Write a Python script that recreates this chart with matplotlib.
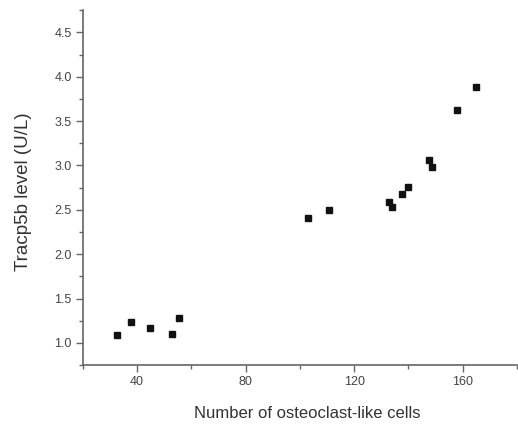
"""Tracp5b level vs osteoclast-like cell count scatter."""
import matplotlib
matplotlib.use("Agg")
import matplotlib.pyplot as plt
from matplotlib.ticker import MultipleLocator

plt.rcParams["font.family"] = ["Liberation Sans", "DejaVu Sans"]

cells = [32.6, 37.8, 44.8, 52.7, 55.6,
         102.8, 110.8, 133.0, 134.0, 137.8, 139.9,
         147.7, 148.7, 157.8, 165.0]
tracp5b = [1.09, 1.24, 1.165, 1.10, 1.285,
           2.41, 2.50, 2.59, 2.53, 2.68, 2.76,
           3.06, 2.98, 3.62, 3.885]

AX_COL = "#666666"
TXT_COL = "#444444"

fig = plt.figure(figsize=(5.18, 4.25), dpi=100)
ax = fig.add_axes([0.160, 0.141, 0.838, 0.835])

ax.plot(cells, tracp5b, linestyle="none", marker="s", markersize=4.8,
        color="#111111")

ax.set_xlim(20, 180)
ax.set_ylim(0.75, 4.75)
ax.xaxis.set_minor_locator(MultipleLocator(20))
ax.yaxis.set_minor_locator(MultipleLocator(0.25))
ax.set_xticks([40, 80, 120, 160])
ax.set_yticks([1.0, 1.5, 2.0, 2.5, 3.0, 3.5, 4.0, 4.5])

for side in ("top", "right"):
    ax.spines[side].set_visible(False)
for side in ("left", "bottom"):
    ax.spines[side].set_color(AX_COL)
    ax.spines[side].set_linewidth(1.2)

ax.tick_params(which="major", direction="out", length=5, width=1.0,
               color=AX_COL, labelcolor=TXT_COL, labelsize=9, pad=3)
ax.tick_params(which="minor", direction="out", length=3, width=1.0,
               color=AX_COL)

ax.set_xlabel("Number of osteoclast-like cells", fontsize=12, color="#333333")
ax.set_ylabel("Tracp5b level (U/L)", fontsize=13.5, color="#333333")
ax.xaxis.set_label_coords(0.518, -0.115)
ax.yaxis.set_label_coords(-0.117, 0.489)

fig.savefig("out.png", dpi=100)
plt.close(fig)
